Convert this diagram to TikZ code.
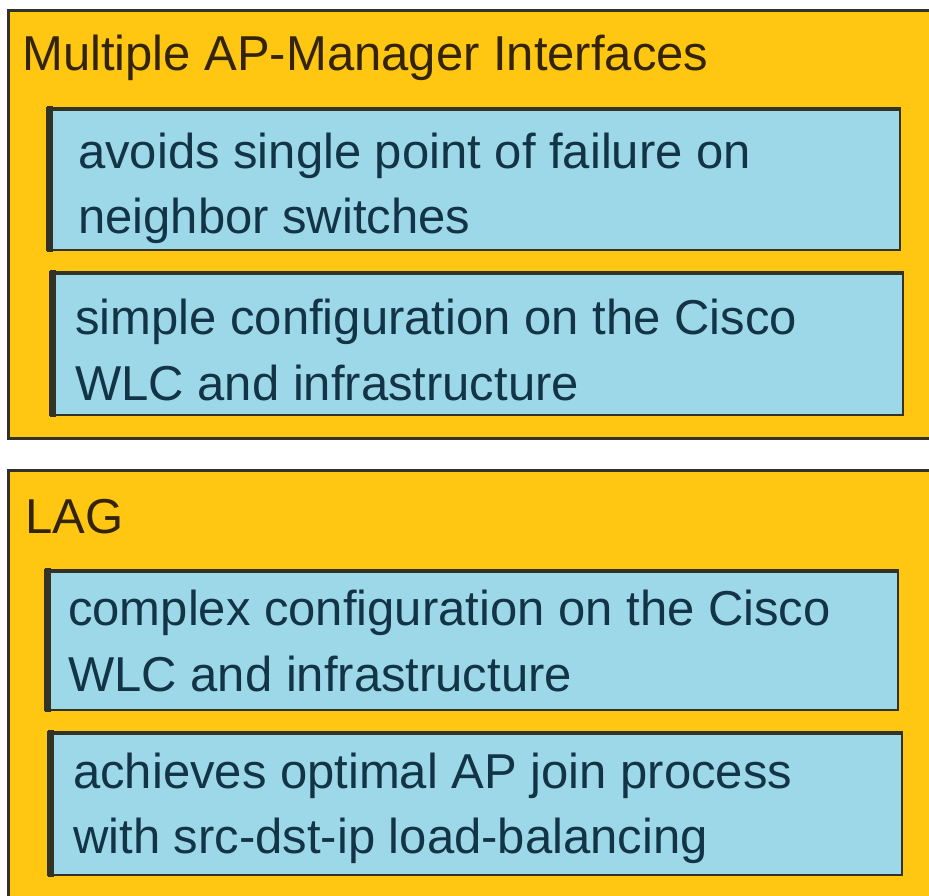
\documentclass[tikz,border=0pt]{standalone}
\usepackage{fontspec}
\setmainfont{Liberation Sans}
\definecolor{orangebg}{RGB}{255,198,18}
\definecolor{bluebg}{RGB}{157,216,232}
\definecolor{edgedark}{RGB}{50,50,38}
\definecolor{txtblue}{RGB}{18,52,70}
\definecolor{txtbrown}{RGB}{52,36,6}
\tikzset{
  outerbox/.style={fill=orangebg, draw=edgedark, line width=3pt},
  innerbox/.style={fill=bluebg, draw=edgedark, line width=2.5pt},
  thickedge/.style={draw=edgedark, line width=6pt},
  topedge/.style={draw=edgedark, line width=3.5pt},
  title/.style={anchor=base west, inner sep=0pt, text=txtbrown, font=\fontsize{49}{64}\selectfont},
  item/.style={anchor=base west, inner sep=0pt, text=txtblue, font=\fontsize{49}{64}\selectfont},
}
\begin{document}
\begin{tikzpicture}[x=1pt,y=-1pt]
\useasboundingbox (0,0) rectangle (929,895);
\clip (0,0) rectangle (929,895);
\fill[white] (0,0) rectangle (929,895);
% outer boxes
\draw[outerbox] (8,10) rectangle (940,438);
\draw[outerbox] (8,470) rectangle (940,910);
\node[title] (t1) at (22,70) {Multiple AP-Manager Interfaces};
\node[title] (t2) at (25,533) {LAG};
% inner box 1a
\draw[innerbox] (47,108) rectangle (900,250);
\draw[thickedge] (50,106) -- (50,252);
\draw[topedge] (47,109) -- (900,109);
\node[item] (a1) at (78,168) {avoids single point of failure on};
\node[item] (a2) at (78,233) {neighbor switches};
% inner box 1b
\draw[innerbox] (50,272) rectangle (903,415);
\draw[thickedge] (53,270) -- (53,417);
\draw[topedge] (50,273) -- (903,273);
\node[item] (b1) at (75,334) {simple configuration on the Cisco};
\node[item] (b2) at (75,400) {WLC and infrastructure};
% inner box 2a
\draw[innerbox] (45,570) rectangle (898,710);
\draw[thickedge] (48,568) -- (48,712);
\draw[topedge] (45,571) -- (898,571);
\node[item] (c1) at (68,625) {complex configuration on the Cisco};
\node[item] (c2) at (68,691) {WLC and infrastructure};
% inner box 2b
\draw[innerbox] (48,732) rectangle (902,875);
\draw[thickedge] (51,730) -- (51,877);
\draw[topedge] (48,733) -- (902,733);
\node[item] (d1) at (73,788) {achieves optimal AP join process};
\node[item] (d2) at (73,853) {with src-dst-ip load-balancing};
\end{tikzpicture}
\end{document}
